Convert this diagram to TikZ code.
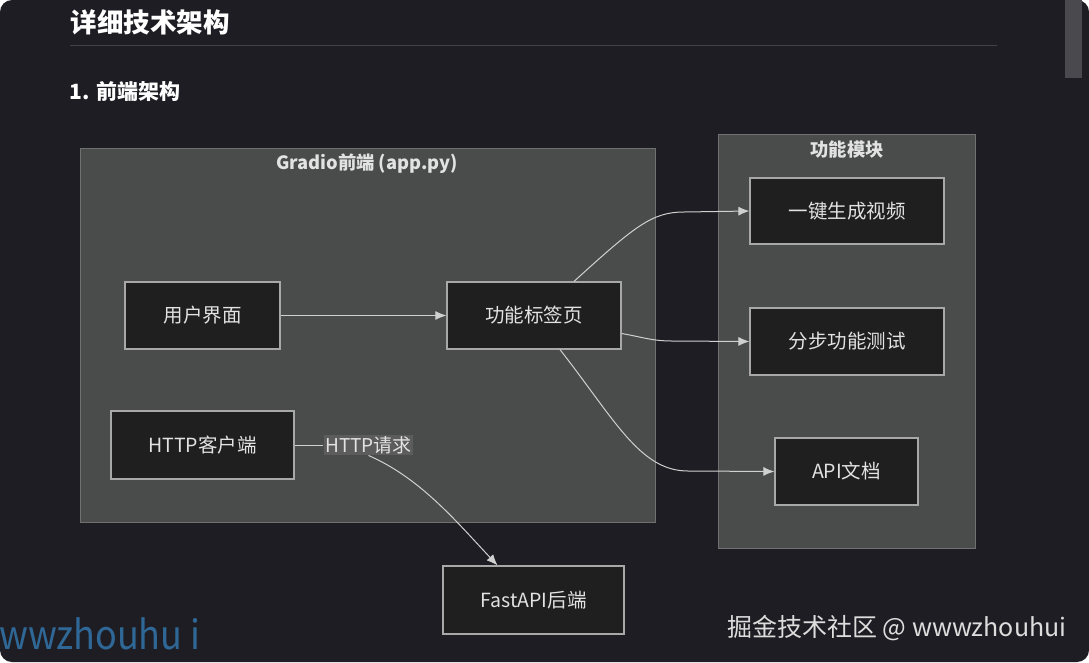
\documentclass[tikz,border=0pt]{standalone}
\usepackage{fontspec}
\setmainfont{Noto Sans CJK SC}
\usetikzlibrary{positioning,arrows.meta}
\definecolor{pagebg}{HTML}{1E1D23}
\definecolor{scrollbar}{HTML}{4A4A4E}
\definecolor{ruleline}{HTML}{444349}
\definecolor{groupfill}{HTML}{4A4C4B}
\definecolor{groupline}{HTML}{707070}
\definecolor{boxfill}{HTML}{1F1F1F}
\definecolor{boxline}{HTML}{A8A8A8}
\definecolor{inktext}{HTML}{E2E2E2}
\definecolor{labelfill}{HTML}{5C5C5C}
\definecolor{wireline}{HTML}{D0D0D0}
\definecolor{marktext}{HTML}{DDDDDD}
\definecolor{markblue}{HTML}{2F6896}
\tikzset{
  modbox/.style = {draw = boxline, fill = boxfill, line width = 1.2pt, text = inktext,
                   inner sep = 0pt, font = \fontsize{19.5}{21}\selectfont},
  groupbox/.style = {draw = groupline, fill = groupfill, line width = 1pt},
  grouptitle/.style = {text = inktext, font = \fontsize{18.3}{20}\selectfont\bfseries},
  flow/.style = {draw = wireline, line width = 1pt, ->}
}
\begin{document}
\begin{tikzpicture}[x = 1pt, y = -1pt]
		\tikzset{> = {Latex[length = 11pt, width = 9pt]}}
		\useasboundingbox (0,0) rectangle (1089,662);
		\fill [white] (0,0) rectangle (1089,662);
		\fill [pagebg, rounded corners = 12pt] (0,0) rectangle (1089,662);
		\fill [scrollbar] (1065,0) rectangle (1082,78);
		% headings
		\node [anchor = west, text = white, font = \fontsize{26.5}{28}\selectfont\bfseries] (head) at (67,22) {详细技术架构};
		\draw [ruleline, line width = 1pt] (70,45) -- (997,45);
		\node [anchor = west, text = white, font = \fontsize{21}{23}\selectfont\bfseries] (sub) at (66,92) {1. 前端架构};
		% groups
		\draw [groupbox] (80,148) rectangle (655,522);
		\node [grouptitle] (gradio) at (367,164) {Gradio前端 (app.py)};
		\draw [groupbox] (718,134) rectangle (975,548);
		\node [grouptitle] (mods) at (847,150) {功能模块};
		% nodes
		\node [modbox, minimum width = 155pt, minimum height = 67pt] (ui) at (202.5,315.5) {用户界面};
		\node [modbox, minimum width = 174pt, minimum height = 67pt] (tabs) at (534,315.5) {功能标签页};
		\node [modbox, minimum width = 183pt, minimum height = 68pt] (client) at (202.5,445) {HTTP客户端};
		\node [modbox, minimum width = 194pt, minimum height = 66pt] (onekey) at (847,211) {一键生成视频};
		\node [modbox, minimum width = 194pt, minimum height = 67pt] (steps) at (847,341.5) {分步功能测试};
		\node [modbox, minimum width = 143pt, minimum height = 67pt] (apidoc) at (846.5,471.5) {API文档};
		\node [modbox, minimum width = 181pt, minimum height = 68pt] (backend) at (533.5,600) {FastAPI后端};
		\node [fill = labelfill, text = inktext, inner sep = 1.5pt, font = \fontsize{19}{21}\selectfont] (req) at (368.5,445) {HTTP请求};
		% connectors
		\draw [flow] ([xshift = 40pt]tabs.north) .. controls (635,226) and (652,212) .. (684,212) -- (onekey.west);
		\draw [flow] (ui) -- (tabs);
		\draw [flow] ([yshift = -18pt]tabs.east) .. controls (642,337) and (652,341) .. (672,341) -- (steps.west);
		\draw [flow] ([xshift = 26pt]tabs.south) .. controls (615,420) and (640,471) .. (688,471) -- (apidoc.west);
		\draw [draw = wireline, line width = 1pt] (client.east) -- (req.west);
		\draw [flow] (req.south) .. controls (420,478) and (455,520) .. ([xshift = -36pt]backend.north);
		% watermark
		\node [anchor = east, text = marktext, font = \fontsize{25}{27}\selectfont] (mark) at (1070,628) {掘金技术社区 @ wwwzhouhui};
		\node [anchor = west, text = markblue, xscale = 0.9, transform shape, font = \fontsize{40}{42}\selectfont] (markleft) at (-4,634) {wwzhouhu i};
	\end{tikzpicture}
\end{document}
